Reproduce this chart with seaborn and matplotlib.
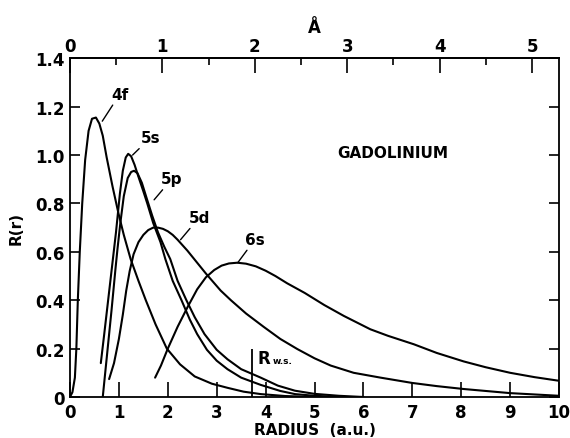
import numpy as np
import pandas as pd
import matplotlib
matplotlib.use("Agg")
import matplotlib.pyplot as plt
import seaborn as sns
from matplotlib.ticker import MultipleLocator

# radial wave functions of Gd (radius in a.u., R(r))
r_4f = [0.0, 0.05, 0.10, 0.13, 0.16, 0.20, 0.25, 0.31, 0.38, 0.45, 0.53, 0.60, 0.67, 0.75, 0.87,
        0.99, 1.10, 1.24, 1.40, 1.55, 1.75, 1.98, 2.25, 2.55, 2.90, 3.22, 3.55, 3.90, 4.40, 5.00]
R_4f = [0.0, 0.02, 0.08, 0.20, 0.40, 0.60, 0.80, 0.98, 1.10, 1.15, 1.155, 1.13, 1.08, 0.99, 0.87,
        0.76, 0.67, 0.57, 0.48, 0.40, 0.30, 0.20, 0.135, 0.085, 0.055, 0.038, 0.022, 0.012, 0.004, 0.0]

r_5s = [0.63, 0.70, 0.78, 0.86, 0.94, 1.02, 1.08, 1.14, 1.19, 1.25, 1.32, 1.40, 1.50, 1.58,
        1.70, 1.85, 1.95, 2.10, 2.28, 2.45, 2.60, 2.80, 3.00, 3.22, 3.50, 3.90, 4.30, 4.60, 5.00, 5.50]
R_5s = [0.14, 0.26, 0.40, 0.54, 0.68, 0.84, 0.935, 0.99, 1.005, 0.995, 0.96, 0.91, 0.85, 0.80,
        0.72, 0.64, 0.57, 0.48, 0.40, 0.32, 0.26, 0.195, 0.15, 0.115, 0.08, 0.05, 0.025, 0.012, 0.005, 0.0]

r_5p = [0.67, 0.72, 0.78, 0.85, 0.93, 0.97, 1.03, 1.10, 1.18, 1.25, 1.31, 1.38, 1.47, 1.57,
        1.68, 1.80, 1.93, 2.05, 2.20, 2.38, 2.55, 2.75, 3.00, 3.22, 3.50, 3.90, 4.25, 4.60, 5.00, 5.50, 6.00]
R_5p = [0.0, 0.10, 0.22, 0.36, 0.53, 0.61, 0.72, 0.83, 0.905, 0.93, 0.935, 0.925, 0.885, 0.82,
        0.75, 0.68, 0.62, 0.57, 0.48, 0.40, 0.33, 0.26, 0.195, 0.156, 0.115, 0.08, 0.047, 0.026, 0.013, 0.005, 0.0]

r_5d = [0.80, 0.90, 1.00, 1.08, 1.15, 1.22, 1.30, 1.40, 1.50, 1.60, 1.70, 1.80, 1.90, 2.00, 2.10, 2.20, 2.40,
        2.54, 2.78, 3.08, 3.29, 3.60, 3.96, 4.30, 4.65, 5.00, 5.33, 5.80, 6.35, 7.00, 7.50, 8.05, 9.00, 10.0]
R_5d = [0.074, 0.14, 0.24, 0.34, 0.44, 0.52, 0.59, 0.64, 0.67, 0.69, 0.70, 0.70, 0.695, 0.685, 0.67, 0.65, 0.605,
        0.57, 0.51, 0.44, 0.40, 0.345, 0.29, 0.24, 0.198, 0.16, 0.13, 0.10, 0.08, 0.058, 0.045, 0.033, 0.016, 0.005]

r_6s = [1.74, 1.86, 2.00, 2.20, 2.40, 2.60, 2.78, 2.95, 3.10, 3.25, 3.42, 3.60, 3.80, 4.00, 4.20, 4.44,
        4.80, 5.20, 5.60, 6.14, 6.50, 7.03, 7.50, 8.05, 8.50, 9.00, 9.50, 10.0]
R_6s = [0.08, 0.13, 0.20, 0.29, 0.37, 0.445, 0.495, 0.525, 0.543, 0.552, 0.555, 0.551, 0.54, 0.522, 0.50, 0.47,
        0.43, 0.38, 0.335, 0.28, 0.253, 0.218, 0.182, 0.147, 0.123, 0.10, 0.082, 0.067]

orbitals = ["4f", "5s", "5p", "5d", "6s"]
radii = [r_4f, r_5s, r_5p, r_5d, r_6s]
values = [R_4f, R_5s, R_5p, R_5d, R_6s]

# point on the curve where each leader line starts, and where its label sits
label_xy = [(0.66, 1.14), (1.28, 1.00), (1.72, 0.815), (2.26, 0.65), (3.43, 0.555)]
label_text_xy = [(0.84, 1.22), (1.44, 1.04), (1.86, 0.87), (2.42, 0.71), (3.58, 0.62)]

r_ws = 3.73        # Wigner-Seitz radius
r_ws_top = 0.2
au_per_angstrom = 1.8897

rows = []
for name, r, R in zip(orbitals, radii, values):
    for x, y in zip(r, R):
        rows.append({"orbital": name, "r": x, "R": y})
df = pd.DataFrame(rows)

sns.set_theme(style="ticks")
plt.rcParams["font.family"] = ["DejaVu Sans"]
plt.rcParams["font.weight"] = "bold"
for key in ["text.color", "axes.labelcolor", "xtick.color", "ytick.color", "axes.edgecolor"]:
    plt.rcParams[key] = "black"

fig = plt.figure(figsize=(5.7, 4.39), dpi=100)
ax = fig.add_axes([0.1228, 0.0934, 0.858, 0.7716])

for name in orbitals:
    sns.lineplot(data=df[df["orbital"] == name], x="r", y="R", ax=ax, color="black",
                 linewidth=1.5, sort=False, estimator=None, solid_joinstyle="round")

for name, xy, xyt in zip(orbitals, label_xy, label_text_xy):
    ax.annotate(name, xy=xy, xytext=xyt, fontsize=11, fontweight="bold",
                ha="left", va="bottom",
                arrowprops=dict(arrowstyle="-", color="black", lw=1.0,
                                shrinkA=0, shrinkB=0))

ax.vlines(r_ws, 0, r_ws_top, color="black", linewidth=1.3)
ax.text(r_ws + 0.1, 0.14, "R", fontsize=12, fontweight="bold")
ax.text(r_ws + 0.42, 0.14, "w.s.", fontsize=6.5, fontweight="bold")

ax.text(6.6, 1.01, "GADOLINIUM", fontsize=11, fontweight="bold", ha="center", va="center")

ax.set_xlim(0, 10)
ax.set_ylim(0, 1.4)
ax.set_xticks(range(0, 11))
ax.set_yticks([0, 0.2, 0.4, 0.6, 0.8, 1.0, 1.2, 1.4])
ax.set_yticklabels(["0", "0.2", "0.4", "0.6", "0.8", "1.0", "1.2", "1.4"])
ax.tick_params(axis="x", direction="in", length=11, width=1.2, labelsize=12, pad=4)
ax.tick_params(axis="y", direction="in", length=7, width=1.2, labelsize=12,
               right=True, pad=4)
ax.set_xlabel("RADIUS  (a.u.)", fontsize=11, fontweight="bold", labelpad=1)
ax.set_ylabel("R(r)", fontsize=11, fontweight="bold", labelpad=8)
for sp in ax.spines.values():
    sp.set_linewidth(1.3)
    sp.set_visible(True)

top = ax.secondary_xaxis("top", functions=(lambda x: x / au_per_angstrom,
                                           lambda a: a * au_per_angstrom))
top.set_xticks([0, 1, 2, 3, 4, 5])
top.xaxis.set_minor_locator(MultipleLocator(0.5))
top.tick_params(axis="x", which="major", direction="in", length=11, width=1.2,
                labelsize=12, pad=2)
top.tick_params(axis="x", which="minor", direction="in", length=5, width=1.2)
top.set_xlabel("Å", fontsize=12, fontweight="bold", labelpad=4)

fig.savefig("out.png", dpi=100)
